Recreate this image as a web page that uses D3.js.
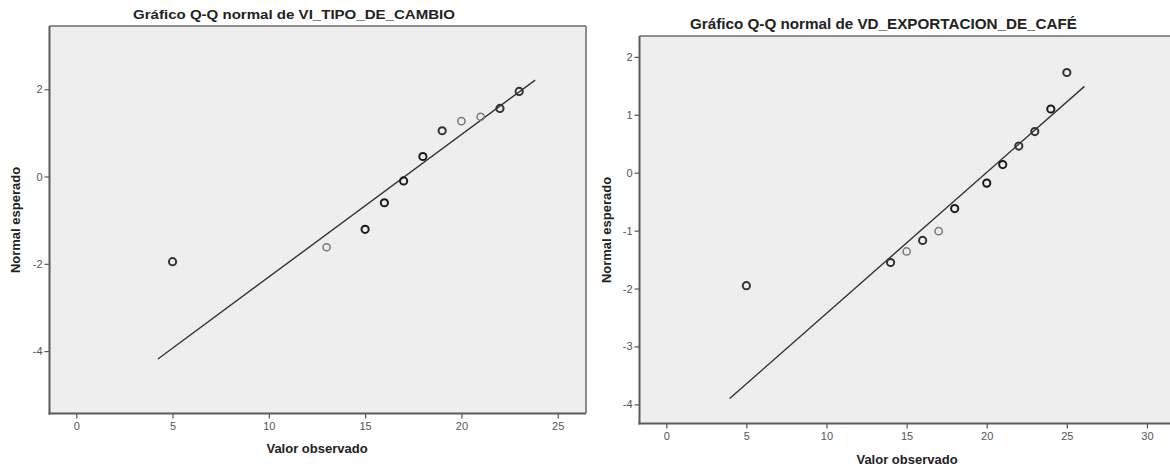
<!DOCTYPE html>
<html><head><meta charset="utf-8">
<script src="https://cdn.jsdelivr.net/npm/d3@7"></script>
<style>body{margin:0;background:#fff}svg{display:block}</style>
</head><body>
<script>
// ---- Data: panel 1 (VI_TIPO_DE_CAMBIO)
const titles = ["Gráfico Q-Q normal de VI_TIPO_DE_CAMBIO", "Gráfico Q-Q normal de VD_EXPORTACION_DE_CAFÉ"];
const xLabel = "Valor observado";
const yLabel = "Normal esperado";
const obs1 = [5, 13, 15, 16, 17, 18, 19, 20, 21, 22, 23];
const exp1 = [-1.95, -1.62, -1.21, -0.60, -0.10, 0.46, 1.05, 1.27, 1.37, 1.56, 1.95];
const ties1 = [2, 1, 3, 3, 3, 3, 2, 1, 1, 2, 2];
const lineX1 = [4.24, 23.83];
const lineY1 = [-4.18, 2.21];
const xTicks1 = [0, 5, 10, 15, 20, 25];
const yTicks1 = [2, 0, -2, -4];
// ---- Data: panel 2 (VD_EXPORTACION_DE_CAFÉ)
const obs2 = [5, 14, 15, 16, 17, 18, 20, 21, 22, 23, 24, 25];
const exp2 = [-1.95, -1.55, -1.36, -1.17, -1.01, -0.62, -0.18, 0.14, 0.46, 0.71, 1.10, 1.73];
const ties2 = [2, 2, 1, 2, 1, 3, 3, 3, 2, 2, 3, 2];
const lineX2 = [3.96, 26.1];
const lineY2 = [-3.90, 1.49];
const xTicks2 = [0, 5, 10, 15, 20, 25, 30];
const yTicks2 = [2, 1, 0, -1, -2, -3, -4];

const W = 1170, H = 469;
const svg = d3.select("body").append("svg").attr("width", W).attr("height", H);

const panels = [
  {title: titles[0], obs: obs1, exp: exp1, ties: ties1, lx: lineX1, ly: lineY1, xt: xTicks1, yt: yTicks1,
   box: {x0: 49.5, x1: 586, y0: 26, y1: 413.5}, xd: [-1.39, 26.47], yd: [-5.43, 3.45],
   titleX: 294, titleY: 18.5, titleLen: 322, titleSize: 13.5,
   yLabX: 15.5, yLabY: 220, xLabX: 317, xLabY: 453},
  {title: titles[1], obs: obs2, exp: exp2, ties: ties2, lx: lineX2, ly: lineY2, xt: xTicks2, yt: yTicks2,
   box: {x0: 639.5, x1: 1171, y0: 36, y1: 423.5}, xd: [-1.67, 31.5], yd: [-4.33, 2.36],
   titleX: 883.5, titleY: 29, titleLen: 387, titleSize: 14.5,
   yLabX: 606.5, yLabY: 230, xLabX: 907, xLabY: 464}
];

panels.forEach(p => {
  const g = svg.append("g");
  const x = d3.scaleLinear().domain(p.xd).range([p.box.x0, p.box.x1]);
  const y = d3.scaleLinear().domain(p.yd).range([p.box.y1, p.box.y0]);

  g.append("rect").attr("x", p.box.x0).attr("y", p.box.y0)
    .attr("width", p.box.x1 - p.box.x0).attr("height", p.box.y1 - p.box.y0)
    .attr("fill", "#eeeeee").attr("stroke", "none");

  // axes
  const fmt = d => String(d);
  const ax = g.append("g").attr("transform", `translate(0,${p.box.y1})`)
    .call(d3.axisBottom(x).tickValues(p.xt).tickSize(5).tickPadding(4).tickFormat(fmt));
  const ay = g.append("g").attr("transform", `translate(${p.box.x0},0)`)
    .call(d3.axisLeft(y).tickValues(p.yt).tickSize(5).tickPadding(2).tickFormat(fmt));
  [ax, ay].forEach(a => {
    a.select(".domain").remove();
    a.selectAll(".tick line").attr("stroke", "#555").attr("stroke-width", 1.2);
    a.selectAll(".tick text").attr("fill", "#555").style("font-family", "Liberation Sans, Arial, sans-serif").style("font-size", "11px");
  });

  // frame
  g.append("line").attr("x1", p.box.x0).attr("x2", p.box.x0).attr("y1", p.box.y0).attr("y2", p.box.y1 + 1)
    .attr("stroke", "#5a5a5a").attr("stroke-width", 2);
  g.append("line").attr("x1", p.box.x0 - 1).attr("x2", p.box.x1).attr("y1", p.box.y1).attr("y2", p.box.y1)
    .attr("stroke", "#5a5a5a").attr("stroke-width", 2);
  g.append("line").attr("x1", p.box.x0).attr("x2", p.box.x1).attr("y1", p.box.y0).attr("y2", p.box.y0)
    .attr("stroke", "#6a6a6a").attr("stroke-width", 1.5);
  g.append("line").attr("x1", p.box.x1).attr("x2", p.box.x1).attr("y1", p.box.y0).attr("y2", p.box.y1)
    .attr("stroke", "#6a6a6a").attr("stroke-width", 1.5);

  // reference line
  g.append("line").attr("x1", x(p.lx[0])).attr("y1", y(p.ly[0])).attr("x2", x(p.lx[1])).attr("y2", y(p.ly[1]))
    .attr("stroke", "#333").attr("stroke-width", 1.4);

  // points
  const tieColor = {1: "#777", 2: "#333", 3: "#1a1a1a"};
  g.selectAll("circle.pt").data(p.obs.map((v, i) => ({x: v, y: p.exp[i], t: p.ties[i]})))
    .join("circle").attr("class", "pt")
    .attr("cx", d => x(d.x)).attr("cy", d => y(d.y)).attr("r", 3.6)
    .attr("fill", "none").attr("stroke", d => tieColor[d.t])
    .attr("stroke-width", d => d.t === 1 ? 1.5 : 2);

  // texts
  g.append("text").attr("x", p.titleX).attr("y", p.titleY).attr("text-anchor", "middle")
    .attr("textLength", p.titleLen).attr("lengthAdjust", "spacingAndGlyphs")
    .style("font-family", "Liberation Sans, Arial, sans-serif").style("font-weight", "bold")
    .style("font-size", p.titleSize + "px").attr("fill", "#222").text(p.title);
  g.append("text").attr("x", p.xLabX).attr("y", p.xLabY).attr("text-anchor", "middle")
    .style("font-family", "Liberation Sans, Arial, sans-serif").style("font-weight", "bold")
    .style("font-size", "13px").attr("fill", "#222").text(xLabel);
  g.append("text").attr("transform", `translate(${p.yLabX + 4.5},${p.yLabY}) rotate(-90)`).attr("text-anchor", "middle")
    .style("font-family", "Liberation Sans, Arial, sans-serif").style("font-weight", "bold")
    .style("font-size", "13px").attr("fill", "#222").text(yLabel);
});
</script>
</body></html>
